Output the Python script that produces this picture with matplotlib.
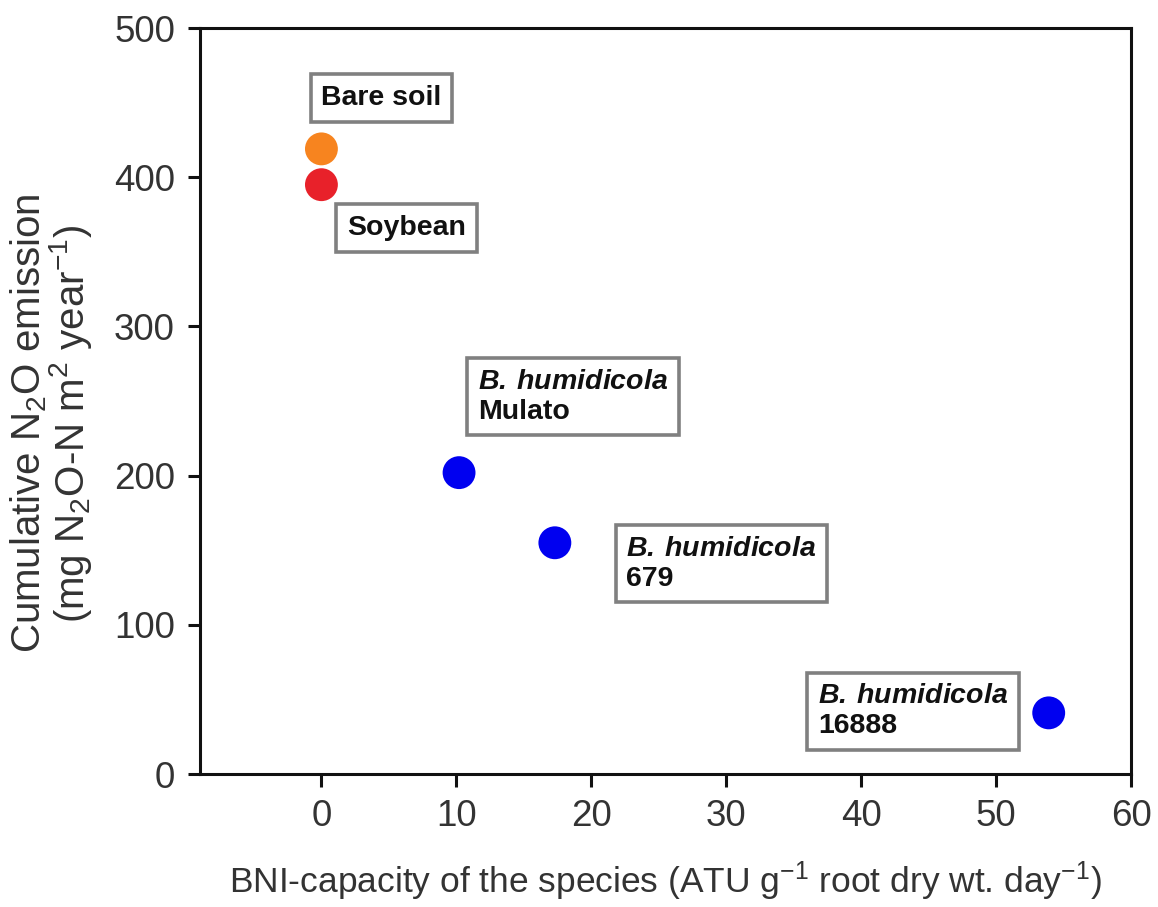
import matplotlib
matplotlib.use("Agg")
import matplotlib.pyplot as plt

# data
species = ["Bare soil", "Soybean", "Mulato", "679", "16888"]
bni = [0.0, 0.0, 10.2, 17.3, 53.9]
n2o = [419, 395, 202, 155, 41]
colors = ["#F7841F", "#E8212A", "#0000F0", "#0000F0", "#0000F0"]

# label text and where it sits (data coords, left / centre)
label_text = [
    "Bare soil",
    "Soybean",
    r"$\mathbfit{B.}\:\mathbfit{humidicola}$" + "\nMulato",
    r"$\mathbfit{B.}\:\mathbfit{humidicola}$" + "\n679",
    r"$\mathbfit{B.}\:\mathbfit{humidicola}$" + "\n16888",
]
label_x = [0.0, 1.9, 11.6, 22.6, 36.8]
label_y = [453, 366, 253, 141, 42]

plt.rcParams["font.family"] = ["Liberation Sans", "DejaVu Sans"]
plt.rcParams["mathtext.fontset"] = "custom"
plt.rcParams["mathtext.rm"] = "Liberation Sans"
plt.rcParams["mathtext.it"] = "Liberation Sans:italic"
plt.rcParams["mathtext.bf"] = "Liberation Sans:bold"
plt.rcParams["mathtext.bfit"] = "Liberation Sans:italic:bold"

fig = plt.figure(figsize=(11.58, 9.07), dpi=100)
ax = fig.add_axes([0.1727, 0.1466, 0.804, 0.8225])

ax.scatter(bni, n2o, s=560, c=colors, edgecolors="none", zorder=3)

for txt, x, y in zip(label_text, label_x, label_y):
    ax.text(x, y, txt, fontsize=20.5, fontweight="bold", color="#111111",
            ha="left", va="center", linespacing=1.2,
            bbox=dict(boxstyle="square,pad=0.38", fc="white", ec="#808080", lw=2.6))

ax.set_xlim(-9, 60)
ax.set_ylim(0, 500)
ax.set_xticks([0, 10, 20, 30, 40, 50, 60])
ax.set_yticks([0, 100, 200, 300, 400, 500])

for sp in ax.spines.values():
    sp.set_linewidth(2.2)
    sp.set_color("#111111")

ax.tick_params(axis="both", direction="out", length=9, width=2.2,
               labelsize=26.5, labelcolor="#333333", color="#111111", pad=9)

ax.set_xlabel(r"BNI-capacity of the species (ATU g$^{-1}$ root dry wt. day$^{-1}$)",
              fontsize=25.5, color="#333333", labelpad=18)
ax.set_ylabel("Cumulative N$_2$O emission\n(mg N$_2$O-N m$^2$ year$^{-1}$)",
              fontsize=29, color="#333333", linespacing=0.95)
ax.yaxis.set_label_coords(-0.114, 0.47)

fig.savefig("out.png", dpi=100)
